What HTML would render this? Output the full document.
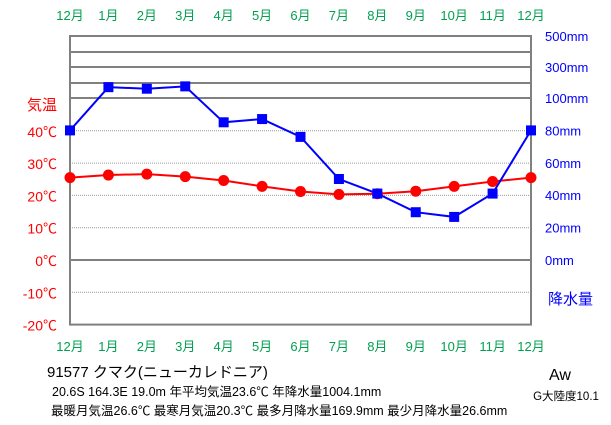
<!DOCTYPE html>
<html><head><meta charset="utf-8"><style>
html,body{margin:0;padding:0;background:#fff;}
svg{display:block;font-family:"Liberation Sans","Noto Sans CJK JP",sans-serif;}
</style></head><body>
<svg id="chart" width="611" height="425" viewBox="0 0 611 425" xmlns="http://www.w3.org/2000/svg">
<g id="grid"></g>
<g id="axes"></g>
<g id="series"></g>
<g fill="#000">
<text x="47" y="377" font-size="15">91577  クマク(ニューカレドニア)</text>
<text x="52" y="396" font-size="12.5">20.6S  164.3E  19.0m  年平均気温23.6℃  年降水量1004.1mm</text>
<text x="51" y="415" font-size="12.5">最暖月気温26.6℃ 最寒月気温20.3℃ 最多月降水量169.9mm 最少月降水量26.6mm</text>
<text x="560" y="380" font-size="16" text-anchor="middle">Aw</text>
<text x="566" y="400" font-size="11.5" text-anchor="middle">G大陸度10.1</text>
</g>
</svg>
<script>
const months = ["12月","1月","2月","3月","4月","5月","6月","7月","8月","9月","10月","11月","12月"];
const temps = [25.5,26.3,26.6,25.8,24.6,22.8,21.2,20.3,20.5,21.3,22.8,24.3,25.5];
const precip = [80,169.9,160,175,85,87,76,50,41,29.5,26.6,41,80];
const tempTicks = [40,30,20,10,0,-10,-20];
const precipTicks = [500,300,100,80,60,40,20,0];
const NS="http://www.w3.org/2000/svg";
const X0=70,X1=531;
function xs(i){return X0+(X1-X0)*i/(months.length-1);}
function yt(t){return 260-t*3.23;}
function yp(p){
  if(p<=100) return 260-p*1.62;
  if(p<=300) return 98-(p-100)/200*31;
  return 67-(p-300)/200*31;
}
function mk(tag,attrs,parent){const e=document.createElementNS(NS,tag);for(const k in attrs)e.setAttribute(k,attrs[k]);parent.appendChild(e);return e;}
const grid=document.getElementById('grid'),axes=document.getElementById('axes'),series=document.getElementById('series');
tempTicks.forEach(t=>{
  if(t===0||t===-20) return;
  const l=mk('line',{x1:X0,x2:X1,y1:yt(t),y2:yt(t),stroke:'#999','stroke-dasharray':'1,1'},grid);
  
  
});
[36,52,67,83,98].forEach(y=>{
  const l=mk('line',{x1:X0,x2:X1,y1:y,y2:y,stroke:'#808080','stroke-width':2},grid);
  
  
});
const zl=mk('line',{x1:X0,x2:X1,y1:yt(0),y2:yt(0),stroke:'#808080','stroke-width':2},grid);


const fr=mk('rect',{x:X0,y:36,width:X1-X0,height:yt(-20)-36,fill:'none',stroke:'#808080','stroke-width':2},grid);


months.forEach((m,i)=>{
  [20,351].forEach(y=>{
    const t=mk('text',{x:xs(i),y:y,'text-anchor':'middle',fill:'#00a050','font-size':13},axes);
    t.textContent=m;
    
    
  });
});
tempTicks.forEach(v=>{
  const t=mk('text',{x:57,y:yt(v)+6,'text-anchor':'end',fill:'#ff0000','font-size':14},axes);
  t.textContent=v+'℃';
  
  
});
const tt=mk('text',{x:57,y:110,'text-anchor':'end',fill:'#ff0000','font-size':15},axes);
tt.textContent='気温';


precipTicks.forEach(v=>{
  const t=mk('text',{x:545,y:yp(v)+5,fill:'#0000ff','font-size':13},axes);
  t.textContent=v+'mm';
  
  
});
const pt=mk('text',{x:548,y:304,fill:'#0000ff','font-size':15},axes);
pt.textContent='降水量';


const tl=mk('polyline',{points:temps.map((v,i)=>xs(i)+','+yt(v)).join(' '),fill:'none',stroke:'#ff0000','stroke-width':2},series);


const pl=mk('polyline',{points:precip.map((v,i)=>xs(i)+','+yp(v)).join(' '),fill:'none',stroke:'#0000ff','stroke-width':2},series);


temps.forEach((v,i)=>{
  const c=mk('circle',{cx:xs(i),cy:yt(v),r:5.5,fill:'#ff0000'},series);
  
  
});
precip.forEach((v,i)=>{
  const r=mk('rect',{x:xs(i)-5,y:yp(v)-5,width:10,height:10,fill:'#0000ff'},series);
  
  
});
</script>
</body></html>
